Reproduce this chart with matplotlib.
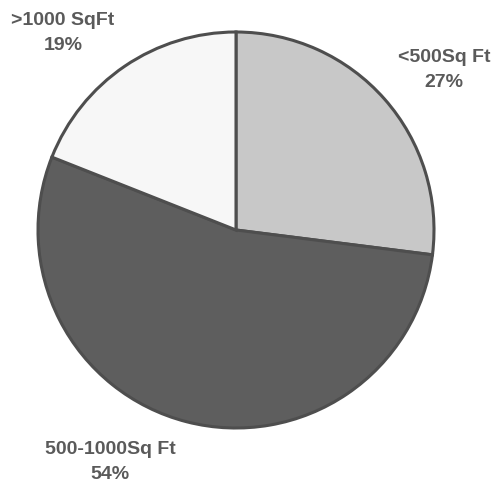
import matplotlib.pyplot as plt

plt.rcParams['font.family'] = ['Liberation Sans', 'DejaVu Sans']

sizes = ['<500Sq Ft', '500-1000Sq Ft', '>1000 SqFt']
shares = [27, 54, 19]
colors = ['#c8c8c8', '#5e5e5e', '#f7f7f7']

fig = plt.figure(figsize=(4.98, 4.89), dpi=100)
ax = fig.add_axes([0, 0, 1, 1])

wedges, _ = ax.pie(shares, colors=colors, startangle=90, counterclock=False,
                   radius=1.0,
                   wedgeprops=dict(edgecolor='#4e4e4e', linewidth=2.2))

# labels placed outside the pie, name on top and share below
label_pos = [(1.050, 0.813), (-0.636, -1.167), (-0.874, 1.000)]
for name, pct, (x, y) in zip(sizes, shares, label_pos):
    ax.text(x, y, f'{name}\n{pct}%', ha='center', va='center',
            fontsize=14, fontweight='bold', color='#5a5a5a',
            linespacing=1.65)

ax.set_xlim(-236 / 198, 262 / 198)
ax.set_ylim(-258 / 198, 231 / 198)
ax.set_aspect('equal')
ax.axis('off')

fig.savefig('out.png', dpi=100)
